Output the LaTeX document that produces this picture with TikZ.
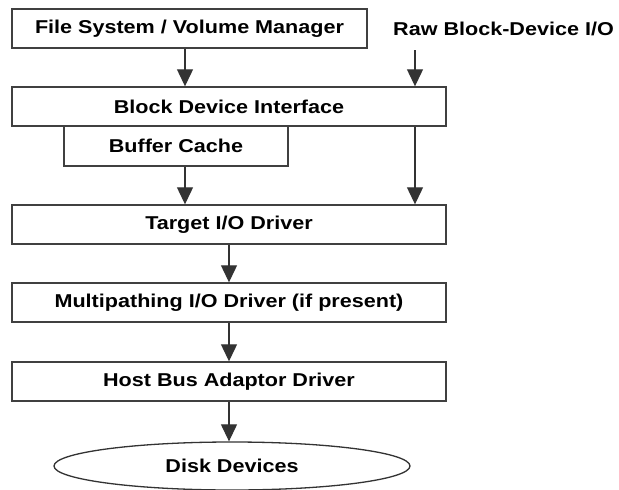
\documentclass[tikz,border=0pt]{standalone}
\usepackage{fontspec}
\setmainfont{Liberation Sans}[FakeStretch=1.16]
\usetikzlibrary{arrows.meta,shapes.geometric}
\begin{document}
\begin{tikzpicture}[x=1pt,y=-1pt,
  lbl/.style={font=\fontsize{18.6}{22}\selectfont\bfseries, text=black},
  layer/.style={lbl, draw=black!75, line width=1.4pt, rectangle, inner sep=0pt, minimum height=39pt},
  disk/.style={lbl, draw=black!80, line width=1.3pt, ellipse, inner sep=0pt, minimum width=356pt, minimum height=48pt},
  arr/.style={draw=black!80, line width=1.2pt, -{Triangle[width=16pt,length=17pt]}, shorten >=0pt}]
\useasboundingbox (0,0) rectangle (619,490);
\fill[white] (0,0) rectangle (619,490);
\node[layer, minimum width=355pt] (fs) at (189.5,28.5) {File System / Volume Manager};
\node[lbl, anchor=west, inner sep=0pt] (raw) at (393,29) {Raw Block-Device I/O};
\node[layer, minimum width=434pt] (bdi) at (229,106.5) {Block Device Interface};
\node[layer, minimum width=224pt, minimum height=40pt] (bc) at (176,146) {Buffer Cache};
\node[layer, minimum width=434pt] (tgt) at (229,224.5) {Target I/O Driver};
\node[layer, minimum width=434pt] (mp) at (229,302.5) {Multipathing I/O Driver (if present)};
\node[layer, minimum width=434pt] (hba) at (229,381.5) {Host Bus Adaptor Driver};
\node[disk] (dd) at (232,466) {Disk Devices};
\coordinate (lx) at (185,0);
\coordinate (rawtop) at (415,50);
\draw[arr] (fs.south -| lx) -- (bdi.north -| lx);
\draw[arr] (rawtop) -- (bdi.north -| rawtop);
\draw[arr] (bc.south -| lx) -- (tgt.north -| lx);
\draw[arr] (bdi.south -| rawtop) -- (tgt.north -| rawtop);
\draw[arr] (tgt.south) -- (mp.north);
\draw[arr] (mp.south) -- (hba.north);
\draw[arr] (hba.south) -- (hba.south |- dd.north);
\end{tikzpicture}
\end{document}
